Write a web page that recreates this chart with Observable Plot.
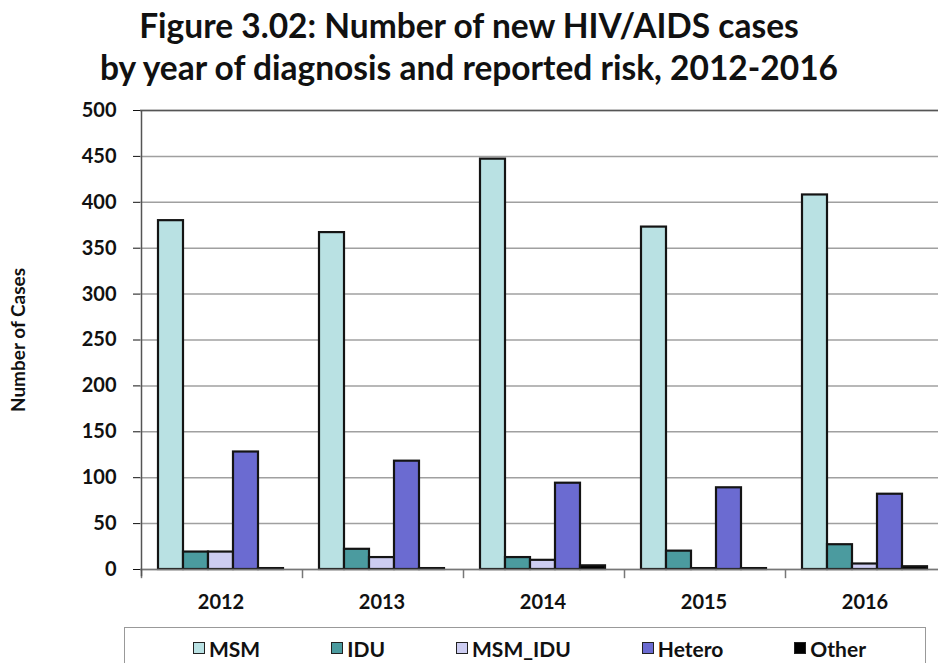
<!DOCTYPE html>
<html>
<head>
<meta charset="utf-8">
<script src="https://cdn.jsdelivr.net/npm/d3@7"></script>
<script src="https://cdn.jsdelivr.net/npm/@observablehq/plot@0.6"></script>
<style>
  html, body { margin: 0; padding: 0; background: #fff; overflow: hidden; }
  #wrap { position: relative; width: 938px; height: 663px; font-family: Lato, "Open Sans", sans-serif; color: #111; }
  #title { height: 84px; box-sizing: border-box; padding-top: 4px; text-align: center; font-weight: bold; font-size: 33.5px; line-height: 42px; white-space: nowrap; }
  #chart svg { display: block; }
  #ylabel { position: absolute; left: 17px; top: 340px; transform: translate(-50%, -50%) rotate(-90deg); font-weight: bold; font-size: 19px; white-space: nowrap; }
  #legend { position: absolute; left: 124px; top: 627px; width: 802px; height: 60px; border: 1.5px solid #999; box-sizing: border-box;
            display: flex; justify-content: flex-start; gap: 71px; padding-top: 8px; padding-left: 68px; font-weight: bold; font-size: 21px; }
  .item { display: flex; align-items: center; height: 24px; }
  .sw { width: 10px; height: 10px; border: 1.5px solid #222; margin-right: 4px; }
</style>
</head>
<body>
<div id="wrap">
  <div id="title">Figure 3.02: Number of new HIV/AIDS cases<br>by year of diagnosis and reported risk, 2012-2016</div>
  <div id="chart"></div>
  <div id="ylabel">Number of Cases</div>
  <div id="legend"></div>
</div>
<script>
const years = ["2012", "2013", "2014", "2015", "2016"];
const risks = ["MSM", "IDU", "MSM_IDU", "Hetero", "Other"];
const MSM = [380, 367, 447, 373, 408];
const IDU = [19, 22, 13, 20, 27];
const MSM_IDU = [19, 13, 10, 1, 6];
const Hetero = [128, 118, 94, 89, 82];
const Other = [1, 1, 4, 1, 3];
const yTicks = [0, 50, 100, 150, 200, 250, 300, 350, 400, 450, 500];
const colors = ["#b9e1e3", "#4b9b9f", "#cdcdf2", "#6b6bd1", "#000000"];

const series = {MSM, IDU, MSM_IDU, Hetero, Other};
const rows = [];
years.forEach((year, i) => risks.forEach(risk => rows.push({year, risk, value: series[risk][i]})));

const chart = Plot.plot({
  width: 938,
  height: 536,
  marginTop: 26,
  marginBottom: 51,
  marginLeft: 140,
  marginRight: 0,
  style: {fontFamily: "Lato, 'Open Sans', sans-serif", fontSize: "20px", fontWeight: "bold", color: "#111", background: "transparent"},
  fx: {domain: years, range: [140, 945], padding: 0, label: null, tickSize: 0, tickPadding: 25},
  x: {domain: risks, paddingInner: 0, paddingOuter: 0.72, axis: null},
  y: {domain: [0, 500], ticks: yTicks, tickSize: 7, tickPadding: 17, label: null},
  color: {domain: risks, range: colors},
  marks: [
    Plot.gridY(yTicks, {stroke: "#a0a0a0", strokeOpacity: 1, strokeWidth: 1.5}),
    Plot.ruleY([500], {stroke: "#555", strokeWidth: 1.5}),
    Plot.barY(rows, {fx: "year", x: "risk", y: "value", fill: "risk", stroke: "#141414", strokeWidth: 2.2}),
    Plot.ruleY([0], {stroke: "#777", strokeWidth: 1.5}),
    Plot.ruleX(years.map(year => ({year})), {fx: "year", x: () => "MSM", y1: 0, y2: -10, dx: -29.5, stroke: "#777", strokeWidth: 1.5}),
    Plot.ruleX([{year: "2012"}], {fx: "year", x: () => "MSM", y1: -8, y2: 500, dx: -29.5, stroke: "#555", strokeWidth: 1.5})
  ]
});
document.getElementById("chart").appendChild(chart);

const legend = document.getElementById("legend");
risks.forEach((r, i) => {
  const item = document.createElement("div");
  item.className = "item";
  const sw = document.createElement("span");
  sw.className = "sw";
  sw.style.background = colors[i];
  const t = document.createElement("span");
  t.textContent = r;
  item.appendChild(sw);
  item.appendChild(t);
  legend.appendChild(item);
});
</script>
</body>
</html>
